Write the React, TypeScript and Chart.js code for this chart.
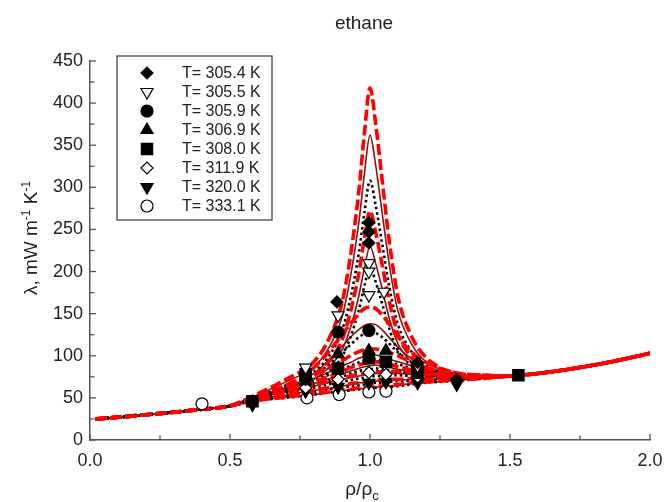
import React, { useEffect, useRef } from 'react';
import { Chart, registerables } from 'chart.js';
import { drawPoint } from 'chart.js/helpers';

Chart.register(...registerables);

// ---------- data ----------
const WING_LEFT_X = [0.02, 0.1, 0.2, 0.3, 0.4, 0.5];
const WING_LEFT_Y = [25, 27, 30, 33, 36.5, 40.5];
const PEAK_X = [0.6, 0.7, 0.8, 0.85, 0.9, 0.93, 0.96, 0.98, 1.0, 1.02, 1.04, 1.07, 1.1, 1.15, 1.2, 1.3, 1.4];
const WING_RIGHT_X = [1.5, 1.6, 1.7, 1.8, 1.9, 2.0];
const WING_RIGHT_Y = [76, 79, 83.5, 89, 95.5, 103];

const RED_3054 = [55, 72, 93, 118, 163, 218, 295, 364, 418, 376, 319, 233, 170, 122, 98, 80, 77];
const MAR_3054 = [54, 69, 87, 108, 146, 193, 258, 316, 362, 327, 278, 206, 153, 113, 93, 79, 76];
const DOT_3054 = [52, 65, 81, 98, 130, 168, 222, 270, 308, 279, 240, 180, 137, 104, 88, 77, 75];
const RED_3055 = [51, 63, 77, 92, 119, 152, 198, 239, 272, 247, 214, 163, 126, 98, 85, 76, 75];
const MAR_3055 = [50, 60, 72, 85, 107, 133, 171, 204, 230, 210, 184, 143, 114, 92, 82, 75, 75];
const DOT_3055 = [50, 59, 69, 80, 99, 122, 154, 183, 205, 188, 166, 131, 106, 88, 79, 74, 74];
const RED_3059 = [54, 65, 86, 104, 125, 138, 150, 156, 158, 156, 150, 137, 122, 104, 92, 80, 77];
const MAR_3059 = [52, 62, 79, 94, 111, 122, 131, 136, 138, 137, 132, 121, 110, 96, 87, 78, 76];
const DOT_3059 = [52, 60, 76, 89, 104, 113, 122, 126, 128, 127, 123, 114, 104, 92, 84, 77, 75];
const RED_3069 = [54, 64, 77, 85, 94, 100, 105, 107, 108, 108, 107, 104, 100, 92, 86, 78, 76];
const MAR_3069 = [52, 62, 73, 80, 88, 92, 97, 99, 100, 101, 99, 96, 93, 88, 83, 77, 75];
const DOT_3069 = [51, 60, 70, 77, 84, 88, 92, 94, 95, 96, 94, 92, 90, 85, 81, 76, 75];
const RED_3080 = [51, 59, 69, 75, 81, 86, 89, 91, 92, 93, 92, 90, 87, 83, 80, 75, 75];
const MAR_3080 = [50, 58, 67, 72, 78, 82, 85, 87, 88, 89, 88, 86, 84, 81, 78, 75, 75];
const DOT_3080 = [50, 57, 65, 70, 75, 79, 82, 83, 84, 85, 84, 83, 81, 79, 76, 74, 74];
const RED_3119 = [51, 58, 65, 69, 73, 76, 78, 79, 80, 81, 81, 81, 81, 80, 78, 76, 76];
const MAR_3119 = [51, 57, 64, 68, 72, 74, 76, 77, 78, 79, 79, 79, 79, 78, 77, 76, 75];
const DOT_3119 = [50, 56, 62, 66, 69, 71, 73, 74, 75, 76, 76, 76, 77, 76, 76, 75, 75];
const RED_3200 = [49, 54, 59, 62, 65, 67, 68, 69, 70, 71, 71, 72, 72, 73, 73, 73, 74];
const MAR_3200 = [49, 53, 59, 61, 64, 66, 68, 68, 69, 70, 70, 71, 71, 72, 72, 73, 74];
const DOT_3200 = [48, 52, 57, 60, 62, 64, 65, 66, 67, 68, 68, 69, 70, 70, 71, 72, 74];
const RED_3331 = [47, 51, 55, 57, 59, 60, 62, 62, 63, 64, 64, 65, 66, 68, 69, 71, 73];
const MAR_3331 = [47, 51, 54, 56, 58, 60, 61, 61, 62, 63, 63, 64, 65, 67, 68, 71, 73];
const DOT_3331 = [47, 50, 54, 56, 58, 59, 60, 60, 61, 62, 62, 63, 64, 66, 68, 70, 73];

const SERIES_LABELS = ['T= 305.4 K', 'T= 305.5 K', 'T= 305.9 K', 'T= 306.9 K', 'T= 308.0 K', 'T= 311.9 K', 'T= 320.0 K', 'T= 333.1 K'];

const PTS_3054_X = [0.58, 0.77, 0.882, 0.996, 0.996, 0.996, 1.17, 1.31];
const PTS_3054_Y = [44, 72, 164, 258, 247, 234, 92, 72];
const PTS_3055_X = [0.77, 0.886, 0.996, 0.996, 0.996, 1.05, 1.17];
const PTS_3055_Y = [86, 148, 210, 200, 172, 176, 88];
const PTS_3059_X = [0.77, 0.886, 0.996, 1.17];
const PTS_3059_Y = [78, 128, 130, 86];
const PTS_3069_X = [0.77, 0.886, 0.996, 1.057, 1.17];
const PTS_3069_Y = [70, 102, 106, 106, 84];
const PTS_3080_X = [0.58, 0.77, 0.886, 0.996, 1.057, 1.17, 1.53];
const PTS_3080_Y = [46, 78, 85, 97, 93, 80, 77];
const PTS_3119_X = [0.77, 0.886, 0.996, 1.057, 1.17];
const PTS_3119_Y = [62, 72, 80, 78, 75];
const PTS_3200_X = [0.58, 0.77, 0.886, 0.996, 1.057, 1.17, 1.31];
const PTS_3200_Y = [42, 58, 63, 68, 69, 68, 66];
const PTS_3331_X = [0.4, 0.775, 0.89, 0.996, 1.057];
const PTS_3331_Y = [43, 50, 54, 57, 58];

const X_TICKS = [0, 0.25, 0.5, 0.75, 1.0, 1.25, 1.5, 1.75, 2.0];
const Y_TICKS = [0, 25, 50, 75, 100, 125, 150, 175, 200, 225, 250, 275, 300, 325, 350, 375, 400, 425, 450];

// ---------- styling ----------
const FONT = '"Liberation Sans", Arial, Helvetica, sans-serif';
const TEXT = '#222';
const AXIS = '#555';

const STYLES: Record<string, any> = {
  red: { borderColor: '#ff0000', borderWidth: 3.6, borderDash: [11, 4], order: 1 },
  mar: { borderColor: '#8b1010', borderWidth: 1.6, borderDash: [], order: 3 },
  dot: { borderColor: '#000000', borderWidth: 2.6, borderDash: [2.5, 3], order: 2 },
};

const CURVES: [number[], string][] = [
  [RED_3054, 'red'], [MAR_3054, 'mar'], [DOT_3054, 'dot'],
  [RED_3055, 'red'], [MAR_3055, 'mar'], [DOT_3055, 'dot'],
  [RED_3059, 'red'], [MAR_3059, 'mar'], [DOT_3059, 'dot'],
  [RED_3069, 'red'], [MAR_3069, 'mar'], [DOT_3069, 'dot'],
  [RED_3080, 'red'], [MAR_3080, 'mar'], [DOT_3080, 'dot'],
  [RED_3119, 'red'], [MAR_3119, 'mar'], [DOT_3119, 'dot'],
  [RED_3200, 'red'], [MAR_3200, 'mar'], [DOT_3200, 'dot'],
  [RED_3331, 'red'], [MAR_3331, 'mar'], [DOT_3331, 'dot'],
];

const POINT_SETS: [number[], number[]][] = [
  [PTS_3054_X, PTS_3054_Y], [PTS_3055_X, PTS_3055_Y], [PTS_3059_X, PTS_3059_Y], [PTS_3069_X, PTS_3069_Y],
  [PTS_3080_X, PTS_3080_Y], [PTS_3119_X, PTS_3119_Y], [PTS_3200_X, PTS_3200_Y], [PTS_3331_X, PTS_3331_Y],
];

const MARKERS = [
  { style: 'rectRot', r: 6, fill: '#000', rot: 0 },
  { style: 'triangle', r: 7, fill: '#fff', rot: 180 },
  { style: 'circle', r: 6, fill: '#000', rot: 0 },
  { style: 'triangle', r: 7, fill: '#000', rot: 0 },
  { style: 'rect', r: 8, fill: '#000', rot: 0 },
  { style: 'rectRot', r: 6, fill: '#fff', rot: 0 },
  { style: 'triangle', r: 7, fill: '#000', rot: 180 },
  { style: 'circle', r: 6, fill: '#fff', rot: 0 },
];

function buildDatasets() {
  const allX = [...WING_LEFT_X, ...PEAK_X, ...WING_RIGHT_X];
  const ds: any[] = [];
  CURVES.forEach(([vals, kind]) => {
    const ys = [...WING_LEFT_Y, ...vals, ...WING_RIGHT_Y];
    const st = STYLES[kind];
    ds.push({
      data: allX.map((x, i) => ({ x, y: ys[i] })),
      borderColor: st.borderColor,
      borderWidth: st.borderWidth,
      borderDash: st.borderDash,
      borderCapStyle: 'butt',
      order: st.order,
      pointRadius: 0,
      fill: false,
      cubicInterpolationMode: 'monotone',
    });
  });
  POINT_SETS.forEach(([xs, ys], k) => {
    const m = MARKERS[k];
    ds.push({
      data: xs.map((x, i) => ({ x, y: ys[i] })),
      showLine: false,
      order: 0,
      pointStyle: m.style,
      pointRadius: m.r,
      pointRotation: m.rot,
      pointBackgroundColor: m.fill,
      pointBorderColor: '#000',
      pointBorderWidth: 1.2,
    });
  });
  return ds;
}

function drawRich(ctx: CanvasRenderingContext2D, parts: { t: string; s?: 'sup' | 'sub' }[], size: number, small: number) {
  const widths = parts.map((p) => {
    ctx.font = `${p.s ? small : size}px ${FONT}`;
    return ctx.measureText(p.t).width;
  });
  const total = widths.reduce((a, b) => a + b, 0);
  let x = -total / 2;
  parts.forEach((p, i) => {
    ctx.font = `${p.s ? small : size}px ${FONT}`;
    const dy = p.s === 'sup' ? -size * 0.38 : p.s === 'sub' ? size * 0.25 : 0;
    ctx.fillText(p.t, x, dy);
    x += widths[i];
  });
}

const overlay = {
  id: 'overlay',
  afterDraw(chart: any) {
    const { ctx, chartArea: ca } = chart;
    const xs = chart.scales.x;
    const ys = chart.scales.y;
    ctx.save();
    // inward tick marks
    ctx.strokeStyle = AXIS;
    ctx.lineWidth = 1.3;
    X_TICKS.forEach((v, i) => {
      const px = xs.getPixelForValue(v);
      const len = i % 2 === 0 ? 6 : 4.5;
      ctx.beginPath();
      ctx.moveTo(px, ca.bottom);
      ctx.lineTo(px, ca.bottom - len);
      ctx.stroke();
    });
    Y_TICKS.forEach((v, i) => {
      const py = ys.getPixelForValue(v);
      const len = i % 2 === 0 ? 6 : 4.5;
      ctx.beginPath();
      ctx.moveTo(ca.left, py);
      ctx.lineTo(ca.left + len, py);
      ctx.stroke();
    });

    // title
    ctx.fillStyle = TEXT;
    ctx.textAlign = 'center';
    ctx.textBaseline = 'alphabetic';
    ctx.font = `19px ${FONT}`;
    ctx.fillText('ethane', 364, 29);

    // y-axis title
    ctx.save();
    ctx.translate(37, 238);
    ctx.rotate(-Math.PI / 2);
    ctx.textAlign = 'left';
    ctx.textBaseline = 'alphabetic';
    drawRich(ctx, [{ t: 'λ, mW m' }, { t: '-1', s: 'sup' }, { t: ' K' }, { t: '-1', s: 'sup' }], 19, 12);
    ctx.restore();

    // x-axis title
    ctx.save();
    ctx.translate(362, 495);
    ctx.textAlign = 'left';
    drawRich(ctx, [{ t: 'ρ/ρ' }, { t: 'c', s: 'sub' }], 19, 13);
    ctx.restore();

    // legend box
    const bx = ca.left + 27;
    const by = ca.top - 5;
    const bw = 155;
    const bh = 164;
    ctx.fillStyle = '#fff';
    ctx.fillRect(bx, by, bw, bh);
    ctx.strokeStyle = '#444';
    ctx.lineWidth = 1.3;
    ctx.strokeRect(bx, by, bw, bh);
    ctx.textAlign = 'left';
    ctx.textBaseline = 'middle';
    ctx.font = `16px ${FONT}`;
    SERIES_LABELS.forEach((lab, i) => {
      const cy = by + 17 + i * 19;
      const m = MARKERS[i];
      ctx.fillStyle = m.fill;
      ctx.strokeStyle = '#000';
      ctx.lineWidth = 1.2;
      drawPoint(ctx, { pointStyle: m.style, rotation: m.rot, radius: m.r, borderWidth: 1.2 } as any, bx + 30, cy);
      ctx.fillStyle = TEXT;
      ctx.fillText(lab, bx + 65, cy + 1);
    });
    ctx.restore();
  },
};

export default function App() {
  const ref = useRef<HTMLCanvasElement>(null);
  useEffect(() => {
    document.body.style.margin = '0';
    const canvas = ref.current!;
    const chart = new Chart(canvas, {
      type: 'line',
      data: { datasets: buildDatasets() },
      options: {
        animation: false,
        responsive: false,
        devicePixelRatio: 1,
        layout: { padding: { top: 61, right: 16, left: 0, bottom: 0 } },
        plugins: { legend: { display: false }, tooltip: { enabled: false }, title: { display: false } },
        scales: {
          x: {
            type: 'linear',
            min: 0,
            max: 2,
            grid: { display: false, drawTicks: false },
            border: { display: true, color: AXIS, width: 1.5 },
            ticks: {
              stepSize: 0.5,
              padding: 10,
              color: TEXT,
              font: { family: FONT, size: 18 },
              callback: (v: any) => Number(v).toFixed(1),
            },
            afterFit: (s: any) => { s.height = 62; s.paddingLeft = 0; s.paddingRight = 0; },
          },
          y: {
            type: 'linear',
            min: 0,
            max: 450,
            grid: { display: false, drawTicks: false },
            border: { display: true, color: AXIS, width: 1.5 },
            ticks: { stepSize: 50, padding: 7, color: TEXT, font: { family: FONT, size: 18 } },
            afterFit: (s: any) => { s.width = 90; s.paddingTop = 0; s.paddingBottom = 0; },
          },
        },
      } as any,
      plugins: [overlay],
    });
    return () => chart.destroy();
  }, []);
  return (
    <div style={{ width: 666, height: 502 }}>
      <canvas ref={ref} width={666} height={502} style={{ display: 'block' }} />
    </div>
  );
}
